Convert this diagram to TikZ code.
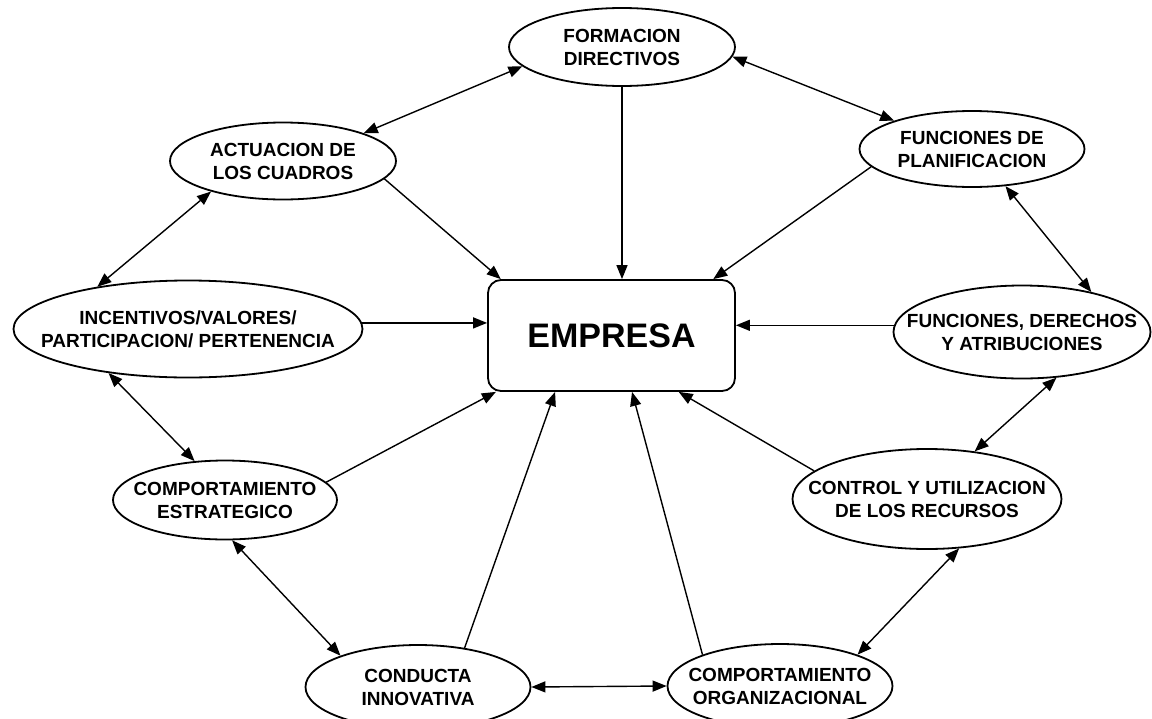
\documentclass[tikz,border=0pt]{standalone}
\usepackage{fontspec}
\setmainfont{Liberation Sans}
\usetikzlibrary{shapes.geometric, arrows.meta}

\begin{document}
\begin{tikzpicture}[x=1pt,y=-1pt,
  bubble/.style={ellipse,draw,line width=1.8pt,inner sep=0pt},
  txt/.style={align=center,inner sep=0pt,font=\fontsize{19}{23}\selectfont\bfseries},
  core/.style={rectangle,rounded corners=13pt,draw,line width=1.8pt,minimum width=247pt,minimum height=111pt,font=\fontsize{34}{38}\selectfont\bfseries},
  link/.style={line width=1.4pt,-{Triangle[length=14pt,width=11pt]}},
  both/.style={line width=1.4pt,{Triangle[length=14pt,width=11pt]}-{Triangle[length=14pt,width=11pt]}}]
  \useasboundingbox (0,0) rectangle (1152,718);

  \node [core] (box) at (611.5,335.5) {EMPRESA};

  \node [bubble,minimum width=226pt,minimum height=78pt,label={[txt]center:{FORMACION\\DIRECTIVOS}}] (form) at (622,47) {};
  \node [bubble,minimum width=226pt,minimum height=77pt,label={[txt]center:{ACTUACION DE\\LOS CUADROS}}] (actu) at (283,161) {};
  \node [bubble,minimum width=225pt,minimum height=76pt,label={[txt]center:{FUNCIONES DE\\PLANIFICACION}}] (plan) at (972,149) {};
  \node [bubble,minimum width=349pt,minimum height=97pt,label={[txt]center:{INCENTIVOS/VALORES/\\PARTICIPACION/ PERTENENCIA}}] (ince) at (188,329) {};
  \node [bubble,minimum width=257pt,minimum height=93pt,label={[txt]center:{FUNCIONES, DERECHOS\\Y ATRIBUCIONES}}] (dere) at (1022,332) {};
  \node [bubble,minimum width=224pt,minimum height=79pt,label={[txt]center:{COMPORTAMIENTO\\ESTRATEGICO}}] (estr) at (225,500) {};
  \node [bubble,minimum width=269pt,minimum height=100pt,label={[txt]center:{CONTROL Y UTILIZACION\\DE LOS RECURSOS}}] (ctrl) at (927,499) {};
  \node [bubble,minimum width=225pt,minimum height=84pt,label={[txt]center:{CONDUCTA\\INNOVATIVA}}] (cond) at (418,687) {};
  \node [bubble,minimum width=225pt,minimum height=84pt,label={[txt]center:{COMPORTAMIENTO\\ORGANIZACIONAL}}] (org) at (780,686) {};

  % arrows into the box
  \foreach \a/\b in {actu.-10/box.153, plan.190/box.29, estr.10/box.206,
                     cond.40/box.225, org.158/box.-70, ctrl.166/box.-40}
    \draw [link] (\a) -- (\b);
  \draw [link] (form.south) -- (form.south |- box.north);
  \draw [link] (ince.2) -- (ince.2 -| box.west);
  \draw [link] (dere.177) -- (dere.177 -| box.east);

  % ring of double arrows
  \foreach \a/\b in {form.191/actu.19, form.-5/plan.160, actu.203/ince.155,
                     ince.209/estr.128, estr.-80/cond.158, cond.east/org.west,
                     org.22/ctrl.-57, ctrl.45/dere.-53, dere.30/plan.-48}
    \draw [both] (\a) -- (\b);

\end{tikzpicture}
\end{document}
